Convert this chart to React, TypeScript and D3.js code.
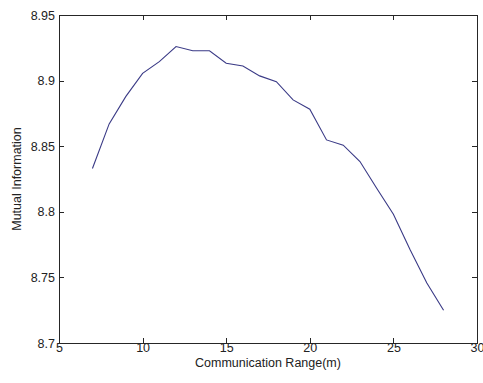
import { useEffect, useRef } from "react";
import * as d3 from "d3";

const ranges = [7, 8, 9, 10, 11, 12, 13, 14, 15, 16, 17, 18, 19, 20, 21, 22, 23, 24, 25, 26, 27, 28];
const mutualInfo = [
    8.833, 8.867, 8.888, 8.9055, 8.9145, 8.926, 8.9228, 8.9228, 8.9132, 8.9112, 8.9036,
    8.8992, 8.8853, 8.8782, 8.8548, 8.8508, 8.8383, 8.818, 8.7982, 8.771, 8.7457, 8.7249,
];
const xTicks = [5, 10, 15, 20, 25, 30];
const yTicks = [8.7, 8.75, 8.8, 8.85, 8.9, 8.95];

const W = 483, H = 383;
const FONT = "'Liberation Sans', Arial, sans-serif";

export default function App ()
{
    const svgRef = useRef<SVGSVGElement>( null );

    useEffect( () =>
    {
        if ( !svgRef.current ) return;
        const svg = d3.select( svgRef.current );
        svg.selectAll( "*" ).remove();

        const m = { top: 15, right: 6, bottom: 40, left: 59 };
        const w = W - m.left - m.right;
        const h = H - m.top - m.bottom;

        svg.append( "rect" ).attr( "width", W ).attr( "height", H ).attr( "fill", "#fff" );
        const g = svg.append( "g" ).attr( "transform", `translate(${ m.left },${ m.top })` );

        const x = d3.scaleLinear().domain( [ 5, 30 ] ).range( [ 0, w ] );
        const y = d3.scaleLinear().domain( [ 8.7, 8.95 ] ).range( [ h, 0 ] );

        const tick = 5;
        const axisColor = "#262626";

        // frame + inward ticks on all four sides (matlab style)
        g.append( "rect" ).attr( "width", w ).attr( "height", h )
            .attr( "fill", "none" ).attr( "stroke", axisColor ).attr( "stroke-width", 1 )
            .attr( "shape-rendering", "crispEdges" );

        const styleAxis = ( sel: any ) =>
        {
            sel.select( ".domain" ).remove();
            sel.selectAll( "line" ).attr( "stroke", axisColor ).attr( "shape-rendering", "crispEdges" );
            sel.selectAll( "text" ).attr( "fill", "#222" ).style( "font-size", "12.5px" ).style( "font-family", FONT );
        };

        g.append( "g" ).attr( "transform", `translate(0,${ h })` )
            .call( d3.axisBottom( x ).tickValues( xTicks ).tickSize( -tick ).tickPadding( 0 ).tickFormat( d3.format( "d" ) ) )
            .call( styleAxis )
            .selectAll( "text" ).attr( "dy", "0.75em" ).attr( "y", 0 );

        g.append( "g" )
            .call( d3.axisTop( x ).tickValues( xTicks ).tickSize( -tick ).tickFormat( () => "" ) )
            .call( styleAxis );

        g.append( "g" )
            .call( d3.axisLeft( y ).tickValues( yTicks ).tickSize( -tick ).tickPadding( 4 ).tickFormat( d3.format( "~g" ) ) )
            .call( styleAxis );

        g.append( "g" ).attr( "transform", `translate(${ w },0)` )
            .call( d3.axisRight( y ).tickValues( yTicks ).tickSize( -tick ).tickFormat( () => "" ) )
            .call( styleAxis );

        // series
        const pts = ranges.map( ( r, i ) => [ r, mutualInfo[ i ] ] as [ number, number ] );
        g.append( "path" ).datum( pts )
            .attr( "fill", "none" ).attr( "stroke", "#3a3a86" ).attr( "stroke-width", 1.1 )
            .attr( "d", d3.line<[ number, number ]>().x( ( d ) => x( d[ 0 ] ) ).y( ( d ) => y( d[ 1 ] ) ) );

        // axis labels
        g.append( "text" ).attr( "x", w / 2 ).attr( "y", h + 24 )
            .attr( "text-anchor", "middle" ).attr( "fill", "#222" )
            .style( "font-size", "12.5px" ).style( "font-family", FONT )
            .text( "Communication Range(m)" );

        g.append( "text" ).attr( "transform", "rotate(-90)" )
            .attr( "x", -h / 2 ).attr( "y", -m.left + 21 )
            .attr( "text-anchor", "middle" ).attr( "fill", "#222" )
            .style( "font-size", "12.5px" ).style( "font-family", FONT )
            .text( "Mutual Information" );
    }, [] );

    return (
        <div style={ { position: "absolute", left: 0, top: 0, width: W, height: H } }>
            <svg ref={ svgRef } width={ W } height={ H } />
        </div>
    );
}
